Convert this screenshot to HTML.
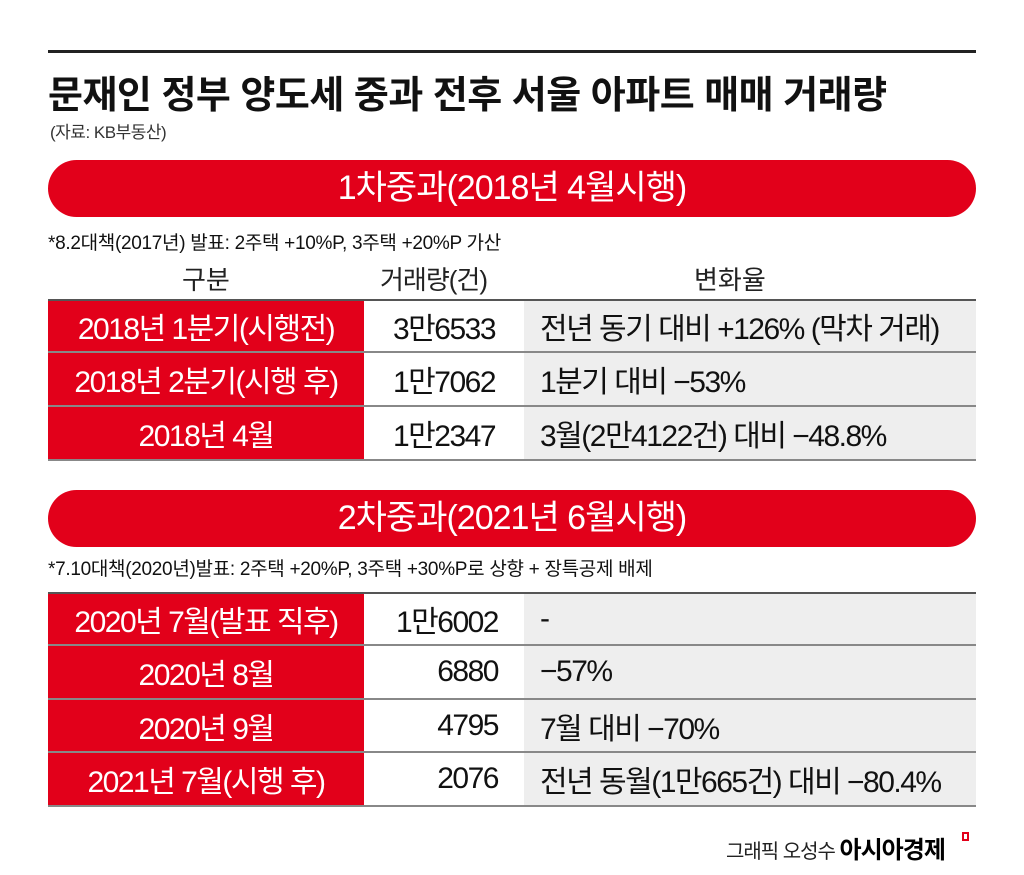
<!DOCTYPE html>
<html><head><meta charset="utf-8"><style>
*{margin:0;padding:0;box-sizing:border-box}
body{width:1024px;height:875px;background:#fff;position:relative;overflow:hidden;font-family:"Liberation Sans","Noto Sans CJK KR",sans-serif;color:#111}
.a{position:absolute;white-space:nowrap}
.pill{position:absolute;left:48px;width:928px;height:57px;background:#e2001a;border-radius:29px;color:#fff;font-size:34px;text-align:center;line-height:57px;letter-spacing:-1px}
.row{position:absolute;left:48px;width:928px;border-bottom:2px solid #888;font-size:30px;letter-spacing:-1.5px}
.row div{position:absolute;top:0;bottom:0;display:flex;align-items:center}
.c1{left:0;width:316px;background:#e2001a;color:#fff;justify-content:center}
.c2{left:316px;width:160px;background:#fff}
.c3{left:476px;width:452px;background:#eeeeee;padding-left:16px}
.r2 .c2{justify-content:flex-end;padding-right:26px}
.r1 .c2{justify-content:center}
</style></head><body>
<div class="a" style="left:48px;top:50px;width:928px;height:3px;background:#222"></div>
<div class="a" style="left:48px;top:64px;font-size:38px;font-weight:bold;letter-spacing:-0.5px">문재인 정부 양도세 중과 전후 서울 아파트 매매 거래량</div>
<div class="a" style="left:50px;top:118px;font-size:17px;color:#333;letter-spacing:-0.5px">(자료: KB부동산)</div>
<div class="pill" style="top:160px">1차중과(2018년 4월시행)</div>
<div class="a" style="left:48px;top:228px;font-size:19px;letter-spacing:-0.3px">*8.2대책(2017년) 발표: 2주택 +10%P, 3주택 +20%P 가산</div>
<div class="a" style="left:182px;top:260px;font-size:26px;color:#222">구분</div>
<div class="a" style="left:380px;top:260px;font-size:26px;color:#222;letter-spacing:-1px">거래량(건)</div>
<div class="a" style="left:694px;top:260px;font-size:26px;color:#222">변화율</div>
<div class="a" style="left:48px;top:299px;width:928px;height:2px;background:#555"></div>
<div class="row r1" style="top:301px;height:52px"><div class="c1">2018년 1분기(시행전)</div><div class="c2">3만6533</div><div class="c3">전년 동기 대비 +126% (막차 거래)</div></div>
<div class="row r1" style="top:353px;height:54px"><div class="c1">2018년 2분기(시행 후)</div><div class="c2">1만7062</div><div class="c3">1분기 대비 −53%</div></div>
<div class="row r1" style="top:407px;height:54px"><div class="c1">2018년 4월</div><div class="c2">1만2347</div><div class="c3">3월(2만4122건) 대비 −48.8%</div></div>
<div class="pill" style="top:490px">2차중과(2021년 6월시행)</div>
<div class="a" style="left:48px;top:554px;font-size:19px;letter-spacing:-0.3px">*7.10대책(2020년)발표: 2주택 +20%P, 3주택 +30%P로 상향 + 장특공제 배제</div>
<div class="a" style="left:48px;top:592px;width:928px;height:2px;background:#555"></div>
<div class="row r2" style="top:594px;height:52px"><div class="c1">2020년 7월(발표 직후)</div><div class="c2">1만6002</div><div class="c3">-</div></div>
<div class="row r2" style="top:646px;height:54px"><div class="c1">2020년 8월</div><div class="c2">6880</div><div class="c3">−57%</div></div>
<div class="row r2" style="top:700px;height:53px"><div class="c1">2020년 9월</div><div class="c2">4795</div><div class="c3">7월 대비 −70%</div></div>
<div class="row r2" style="top:753px;height:54px"><div class="c1">2021년 7월(시행 후)</div><div class="c2">2076</div><div class="c3">전년 동월(1만665건) 대비 −80.4%</div></div>
<div class="a" style="left:726px;top:830px;font-size:20px;color:#222;letter-spacing:-1px">그래픽 오성수 <b style="font-size:24px;color:#000">아시아경제</b></div>
<div class="a" style="left:962px;top:832px;width:7px;height:9px;border:2px solid #e2001a"></div>
</body></html>
